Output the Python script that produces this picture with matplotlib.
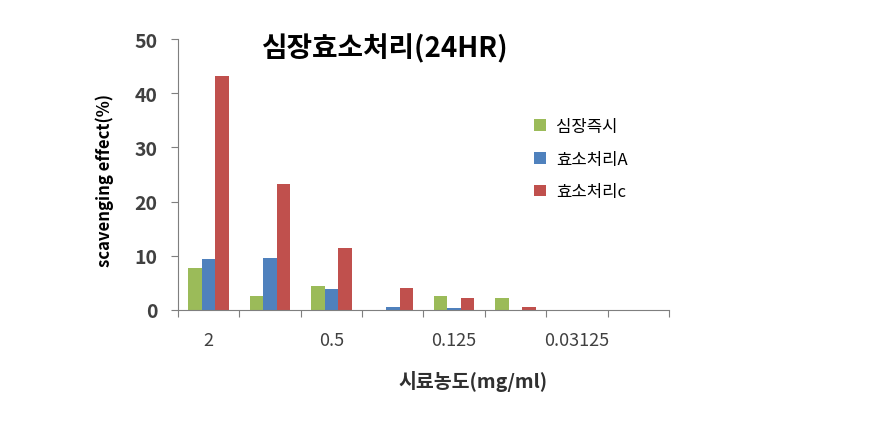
import numpy as np
import matplotlib
matplotlib.use('Agg')
from matplotlib import pyplot as plt

plt.rcParams['font.family'] = ['Noto Sans CJK KR', 'DejaVu Sans']

# data
concentrations = ['2', '1', '0.5', '0.25', '0.125', '0.0625', '0.03125', '0.015625']
shown_labels = ['2', '', '0.5', '', '0.125', '', '0.03125', '']
immediate = [7.7, 2.6, 4.4, 0.0, 2.6, 2.2, 0.0, 0.0]
enzyme_a = [9.4, 9.6, 3.8, 0.5, 0.3, -0.15, -0.3, 0.0]
enzyme_c = [43.2, 23.2, 11.5, 4.0, 2.2, 0.5, -0.3, 0.0]
series_names = ['심장즉시', '효소처리A', '효소처리c']

colors = ['#9BBB59', '#4F81BD', '#C0504D']
grey = '#7F7F7F'

fig = plt.figure(figsize=(8.87, 4.27), dpi=100)
ax = fig.add_axes([0.2007, 0.2717, 0.5535, 0.6346])

x = np.arange(len(concentrations))
w = 0.22
for i, (vals, name) in enumerate(zip([immediate, enzyme_a, enzyme_c], series_names)):
    ax.bar(x + (i - 1) * w, vals, width=w, color=colors[i], label=name)

ax.set_xlim(-0.5, len(concentrations) - 0.5)
ax.set_ylim(0, 50)
ax.set_yticks(range(0, 51, 10))

# tick marks at category boundaries, labels at centres
ax.set_xticks(np.arange(-0.5, len(concentrations), 1.0))
ax.set_xticklabels([])
ax.set_xticks(x, minor=True)
ax.set_xticklabels(shown_labels, minor=True)
ax.tick_params(axis='x', which='major', length=5, color=grey, direction='out')
ax.tick_params(axis='x', which='minor', length=0, pad=15, labelsize=13, labelcolor='#404040')
ax.tick_params(axis='y', length=5, color=grey, labelsize=14, labelcolor='#404040', pad=10)
for lbl in ax.get_yticklabels():
    lbl.set_fontweight('bold')

for s in ['top', 'right']:
    ax.spines[s].set_visible(False)
for s in ['left', 'bottom']:
    ax.spines[s].set_color(grey)

ax.set_ylabel('scavenging effect(%)', fontsize=12, fontweight='bold')
ax.yaxis.set_label_coords(-0.13, 0.483)
ax.set_xlabel('시료농도(mg/ml)', fontsize=14, fontweight='bold', color='#303030')
ax.xaxis.set_label_coords(0.6, -0.22)

fig.text(0.433, 0.885, '심장효소처리(24HR)', fontsize=20, fontweight='bold', ha='center', va='center')

ax.legend(loc='upper left', bbox_to_anchor=(0.695, 0.765), frameon=False, fontsize=12,
          handlelength=0.7, handleheight=0.7, labelspacing=0.95, handletextpad=0.6)

fig.savefig('out.png', dpi=100)
